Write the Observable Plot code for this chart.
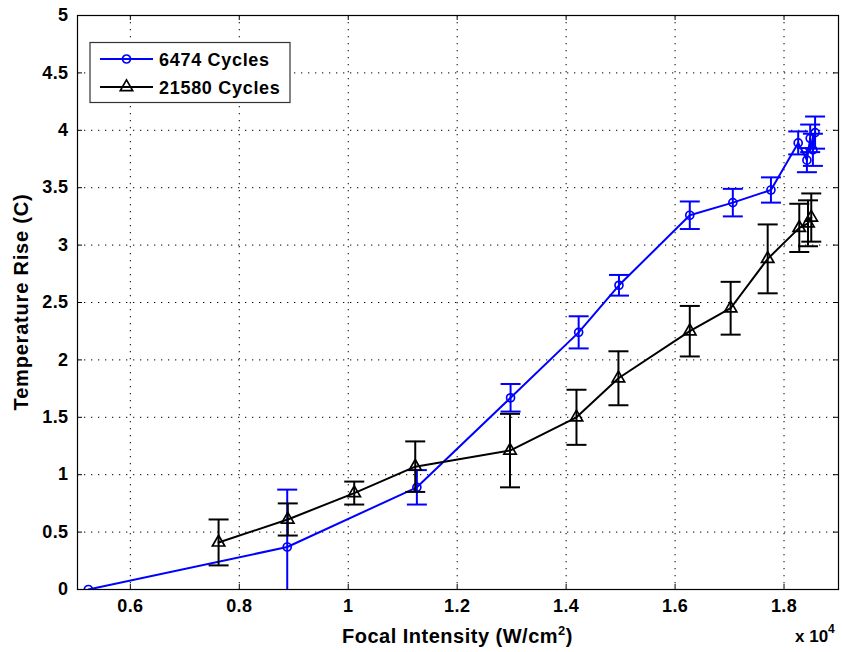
<!DOCTYPE html>
<html><head><meta charset="utf-8">
<script src="https://cdn.jsdelivr.net/npm/d3@7"></script>
<script src="https://cdn.jsdelivr.net/npm/@observablehq/plot@0.6"></script>
<style>
body{margin:0;background:#fff;}
#chart{position:relative;width:842px;height:652px;overflow:hidden;}
</style></head><body><div id="chart"></div>
<script>
// ---- data (x in units of 10^4 W/cm^2, y = temperature rise in C) ----
const seriesNames = ["6474 Cycles", "21580 Cycles"];
const blueX   = [0.523, 0.888, 1.126, 1.298, 1.423, 1.497, 1.627, 1.706, 1.776, 1.826, 1.842, 1.848, 1.853, 1.857];
const blueY   = [0.00, 0.37, 0.89, 1.67, 2.24, 2.65, 3.26, 3.37, 3.48, 3.89, 3.74, 3.93, 3.83, 3.98];
const blueErr = [0.00, 0.50, 0.15, 0.12, 0.14, 0.09, 0.12, 0.12, 0.11, 0.10, 0.105, 0.12, 0.14, 0.14];
const blackX   = [0.762, 0.889, 1.011, 1.123, 1.297, 1.419, 1.496, 1.627, 1.702, 1.770, 1.828, 1.844, 1.850];
const blackY   = [0.41, 0.61, 0.84, 1.07, 1.21, 1.50, 1.84, 2.25, 2.45, 2.88, 3.15, 3.19, 3.24];
const blackErr = [0.20, 0.14, 0.10, 0.22, 0.32, 0.24, 0.235, 0.22, 0.23, 0.30, 0.21, 0.20, 0.21];
const xTicks = [0.6, 0.8, 1.0, 1.2, 1.4, 1.6, 1.8];
const xTickLabels = ["0.6", "0.8", "1", "1.2", "1.4", "1.6", "1.8"];
const yTicks = [0, 0.5, 1, 1.5, 2, 2.5, 3, 3.5, 4, 4.5, 5];
const yTickLabels = ["0", "0.5", "1", "1.5", "2", "2.5", "3", "3.5", "4", "4.5", "5"];
const colors = ["#0000ff", "#000000"];

// ---- build tables ----
const blue = blueX.map((x, i) => ({x, y: blueY[i], e: blueErr[i]}));
const black = blackX.map((x, i) => ({x, y: blackY[i], e: blackErr[i]}));

const W = 842, H = 652, mL = 77, mR = 4, mT = 15, mB = 63;
const pw = W - mL - mR, ph = H - mT - mB;
const font = "'Liberation Sans', Arial, Helvetica, sans-serif";
const capSymbol = {draw(ctx) { ctx.moveTo(-10, 0); ctx.lineTo(10, 0); }};

function seriesMarks(data, color, symbol, r) {
  const withErr = data.filter(d => d.e > 0);
  return [
    Plot.line(data, {x: "x", y: "y", stroke: color, strokeWidth: 2}),
    Plot.ruleX(withErr, {x: "x", y1: d => d.y - d.e, y2: d => d.y + d.e, stroke: color, strokeWidth: 2}),
    Plot.dot(withErr, {x: "x", y: d => d.y + d.e, symbol: capSymbol, fill: "none", stroke: color, strokeWidth: 2}),
    Plot.dot(withErr, {x: "x", y: d => d.y - d.e, symbol: capSymbol, fill: "none", stroke: color, strokeWidth: 2}),
    Plot.dot(data, {x: "x", y: "y", symbol, r, fill: "none", stroke: color, strokeWidth: 1.7})
  ];
}

const chart = Plot.plot({
  width: W, height: H,
  marginLeft: mL, marginRight: mR, marginTop: mT, marginBottom: mB,
  style: {fontFamily: font, fontSize: "18px", fontWeight: "bold", background: "#fff", color: "#000"},
  x: {domain: [0.503, 1.9]},
  y: {domain: [0, 5]},
  clip: true,
  marks: [
    Plot.gridX(xTicks, {stroke: "#000", strokeOpacity: 1, strokeDasharray: "1.3,5.7", clip: false}),
    Plot.gridY(yTicks, {stroke: "#000", strokeOpacity: 1, strokeDasharray: "1.3,5.7", clip: false}),
    Plot.tickX(xTicks, {x: d => d, insetTop: ph - 5, stroke: "#000", clip: false}),
    Plot.tickX(xTicks, {x: d => d, insetBottom: ph - 5, stroke: "#000", clip: false}),
    Plot.tickY(yTicks, {y: d => d, insetRight: pw - 5, stroke: "#000", clip: false}),
    Plot.tickY(yTicks, {y: d => d, insetLeft: pw - 5, stroke: "#000", clip: false}),
    Plot.axisX(xTicks, {tickSize: 0, tickPadding: 10, fontSize: 18, fontWeight: "bold", label: null,
      tickFormat: d => xTickLabels[xTicks.indexOf(d)]}),
    Plot.axisY(yTicks, {tickSize: 0, tickPadding: 9, fontSize: 18, fontWeight: "bold", label: null,
      tickFormat: d => yTickLabels[yTicks.indexOf(d)]}),
    ...seriesMarks(blue, colors[0], "circle", 4),
    ...seriesMarks(black, colors[1], "triangle", 4.6),
    Plot.frame({stroke: "#000", strokeWidth: 1.2, clip: false})
  ]
});
document.getElementById("chart").appendChild(chart);

const svg = d3.select(chart);
svg.selectAll("g[aria-label='x-axis tick label'] text, g[aria-label='y-axis tick label'] text")
  .style("letter-spacing", "0.4px");

// axis titles
const xl = svg.append("text").attr("x", (mL + W - mR) / 2).attr("y", 643)
  .attr("text-anchor", "middle").attr("font-size", 20).attr("font-weight", "bold")
  .attr("font-family", font).style("letter-spacing", "0.5px").attr("fill", "#000");
xl.append("tspan").text("Focal Intensity (W/cm");
xl.append("tspan").attr("font-size", 13).attr("dy", -8).text("2");
xl.append("tspan").attr("dy", 8).text(")");

svg.append("text").attr("transform", `translate(28,${(mT + H - mB) / 2}) rotate(-90)`)
  .attr("text-anchor", "middle").attr("font-size", 20).attr("font-weight", "bold")
  .attr("font-family", font).style("letter-spacing", "0.8px").attr("fill", "#000")
  .text("Temperature Rise (C)");

const ex = svg.append("text").attr("x", 795).attr("y", 642).attr("text-anchor", "start")
  .attr("font-size", 17).attr("font-weight", "bold").attr("font-family", font).attr("fill", "#000");
ex.append("tspan").text("x 10");
ex.append("tspan").attr("font-size", 12).attr("dy", -9).text("4");

// legend
const lg = svg.append("g");
lg.append("rect").attr("x", 90).attr("y", 42.5).attr("width", 200).attr("height", 60)
  .attr("fill", "#fff").attr("stroke", "#333").attr("stroke-width", 1.2);
const rows = [{name: seriesNames[0], color: colors[0], sym: d3.symbolCircle, r: 4, y: 59},
              {name: seriesNames[1], color: colors[1], sym: d3.symbolTriangle, r: 4.6, y: 87}];
rows.forEach(r => {
  lg.append("line").attr("x1", 100).attr("x2", 153).attr("y1", r.y).attr("y2", r.y)
    .attr("stroke", r.color).attr("stroke-width", 2);
  lg.append("path").attr("d", d3.symbol(r.sym, Math.PI * r.r * r.r)()).attr("transform", `translate(126.5,${r.y})`)
    .attr("fill", "none").attr("stroke", r.color).attr("stroke-width", 1.7);
  lg.append("text").attr("x", 159).attr("y", r.y + 6.5).attr("text-anchor", "start")
    .attr("font-size", 18).attr("font-weight", "bold")
    .attr("font-family", font).style("letter-spacing", "0.7px").attr("fill", "#000").text(r.name);
});
</script></body></html>
